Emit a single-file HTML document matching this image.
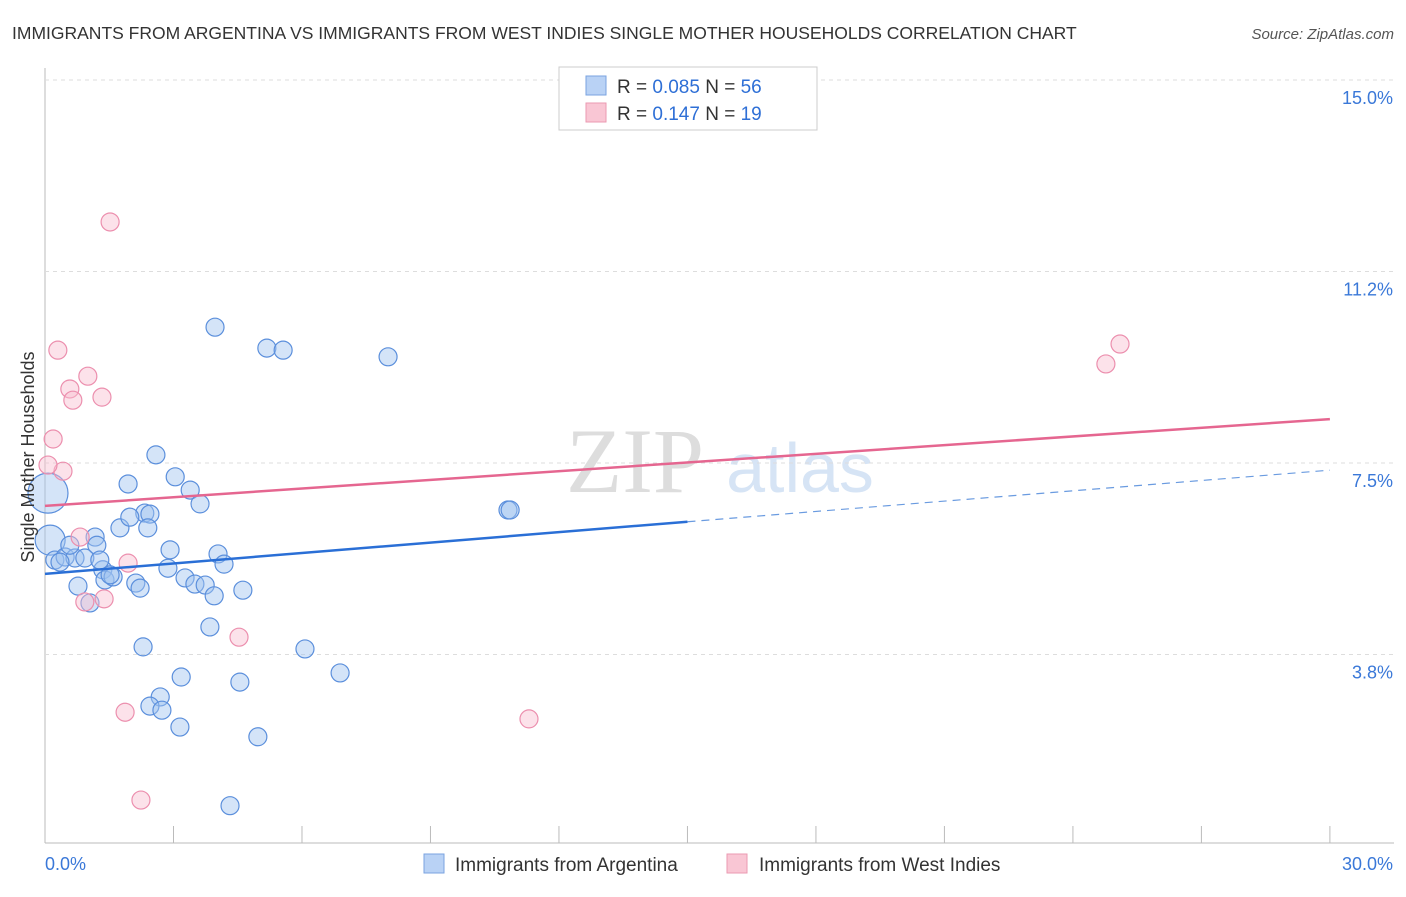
<!DOCTYPE html>
<html><head><meta charset="utf-8"><style>
body{margin:0;background:#fff;font-family:"Liberation Sans",sans-serif}
</style></head><body>
<svg id="c" width="1406" height="892" xmlns="http://www.w3.org/2000/svg">
<text x="12" y="39" font-size="17.5" fill="#333">IMMIGRANTS FROM ARGENTINA VS IMMIGRANTS FROM WEST INDIES SINGLE MOTHER HOUSEHOLDS CORRELATION CHART</text>
<text x="1394" y="39" font-size="15" fill="#555" font-style="italic" text-anchor="end">Source: ZipAtlas.com</text>
<text x="635" y="492" font-size="92" fill="#ddd" font-family="Liberation Serif" text-anchor="middle">ZIP</text>
<text x="800" y="492" font-size="70" fill="#d6e4f5" text-anchor="middle">atlas</text>
<g id="grid"></g><g id="pts"></g><g id="lines"></g>
<text transform="translate(34,457) rotate(-90)" font-size="18" fill="#333" text-anchor="middle">Single Mother Households</text>
<g>
<rect x="559" y="67" width="258" height="63" fill="#fff" stroke="#ccc"/>
<rect x="586" y="76" width="20" height="19" fill="#b9d2f5" stroke="#7aa3e0"/>
<rect x="586" y="103" width="20" height="19" fill="#f9c6d4" stroke="#eb9ab2"/>
<text x="617" y="93" font-size="19" fill="#333">R = <tspan fill="#2e6fd6">0.085</tspan>   N = <tspan fill="#2e6fd6">56</tspan></text>
<text x="617" y="120" font-size="19" fill="#333">R =  <tspan fill="#2e6fd6">0.147</tspan>   N =  <tspan fill="#2e6fd6">19</tspan></text>
</g>
<g>
<rect x="424" y="854" width="20" height="19" fill="#b9d2f5" stroke="#7aa3e0"/>
<text x="455" y="871" font-size="19" fill="#333">Immigrants from Argentina</text>
<rect x="727" y="854" width="20" height="19" fill="#f9c6d4" stroke="#eb9ab2"/>
<text x="759" y="871" font-size="19" fill="#333">Immigrants from West Indies</text>
</g>
</svg>
<script>
const xTicks=[0,3,6,9,12,15,18,21,24,27,30];
const yTicks=[15,11.25,7.5,3.75];
const yTickLabels=["15.0%","11.2%","7.5%","3.8%"];
const blueX=[0.07,0.12,0.23,0.47,0.70,0.93,0.58,1.17,1.21,0.77,1.05,1.35,1.40,1.59,1.75,1.94,2.33,2.45,1.98,2.40,2.12,2.22,2.59,2.92,3.04,2.87,3.27,3.39,3.50,3.62,3.74,3.97,4.04,3.95,4.18,3.85,4.62,2.29,2.69,3.18,2.45,2.73,3.15,4.55,4.97,4.32,5.18,5.56,6.07,6.89,8.01,10.81,10.86,1.52,0.35,1.28];
const blueY=[6.91,5.99,5.60,5.66,5.64,5.64,5.89,6.05,5.89,5.09,4.76,5.41,5.21,5.27,6.23,7.09,6.52,6.50,6.44,6.23,5.15,5.05,7.66,5.80,7.23,5.44,5.25,6.97,5.13,6.70,5.11,10.16,5.72,4.90,5.52,4.29,5.01,3.90,2.92,3.31,2.74,2.66,2.33,3.21,2.14,0.79,9.75,9.71,3.86,3.39,9.58,6.58,6.58,5.31,5.56,5.60];
const blueR=[20,15,9,9,9,9,9,9,9,9,9,9,9,9,9,9,9,9,9,9,9,9,9,9,9,9,9,9,9,9,9,9,9,9,9,9,9,9,9,9,9,9,9,9,9,9,9,9,9,9,9,9,9,9,9,9];
const pinkX=[1.52,0.30,1.00,0.58,0.65,1.33,0.19,0.42,0.07,0.82,1.94,0.93,1.38,4.53,1.87,2.24,11.30,24.77,25.10];
const pinkY=[12.22,9.71,9.20,8.95,8.73,8.79,7.97,7.34,7.46,6.05,5.54,4.78,4.84,4.09,2.62,0.90,2.49,9.44,9.83];
const blueTrend=[5.33,6.35,7.36];
const pinkTrend=[6.66,8.36];
const X=v=>45+v*42.83, Y=v=>80+(15-v)*51.07;
const NS="http://www.w3.org/2000/svg";
function mk(p,t,a){const e=document.createElementNS(NS,t);for(const k in a)e.setAttribute(k,a[k]);p.appendChild(e);return e;}
const g=document.getElementById('grid'),pts=document.getElementById('pts'),ln=document.getElementById('lines');
let ax=mk(g,'line',{x1:45,y1:68,x2:45,y2:843,stroke:'#bbb'});

let bx=mk(g,'line',{x1:45,y1:843,x2:1394,y2:843,stroke:'#bbb'});

yTicks.forEach((v,i)=>{let l=mk(g,'line',{x1:45,y1:Y(v),x2:1394,y2:Y(v),stroke:'#ddd','stroke-dasharray':'4,4'});

let t=mk(g,'text',{x:1393,y:Y(v)+24,'font-size':18,fill:'#3a78d8','text-anchor':'end'});t.textContent=yTickLabels[i];
});
xTicks.forEach(v=>{let l=mk(g,'line',{x1:X(v),y1:826,x2:X(v),y2:843,stroke:'#bbb'});
});
[[0,'0.0%',45,'start'],[30,'30.0%',1393,'end']].forEach(a=>{let t=mk(g,'text',{x:a[2],y:870,'font-size':18,fill:'#3a78d8','text-anchor':a[3]});t.textContent=a[1];
});
blueX.forEach((v,i)=>{let c=mk(pts,'circle',{cx:X(v),cy:Y(blueY[i]),r:blueR[i],fill:'rgba(160,195,240,0.45)',stroke:'#5b8fdc','stroke-width':1.2});
});
pinkX.forEach((v,i)=>{let c=mk(pts,'circle',{cx:X(v),cy:Y(pinkY[i]),r:9,fill:'rgba(248,190,208,0.45)',stroke:'#ec8fae','stroke-width':1.2});
});
let b1=mk(ln,'line',{x1:X(0),y1:Y(blueTrend[0]),x2:X(15),y2:Y(blueTrend[1]),stroke:'#2a6fd6','stroke-width':2.5});

let b2=mk(ln,'line',{x1:X(15),y1:Y(blueTrend[1]),x2:X(30),y2:Y(blueTrend[2]),stroke:'#6a9be0','stroke-width':1.2,'stroke-dasharray':'8,6'});

let p1=mk(ln,'line',{x1:X(0),y1:Y(pinkTrend[0]),x2:X(30),y2:Y(pinkTrend[1]),stroke:'#e56690','stroke-width':2.5});

</script>
</body></html>
